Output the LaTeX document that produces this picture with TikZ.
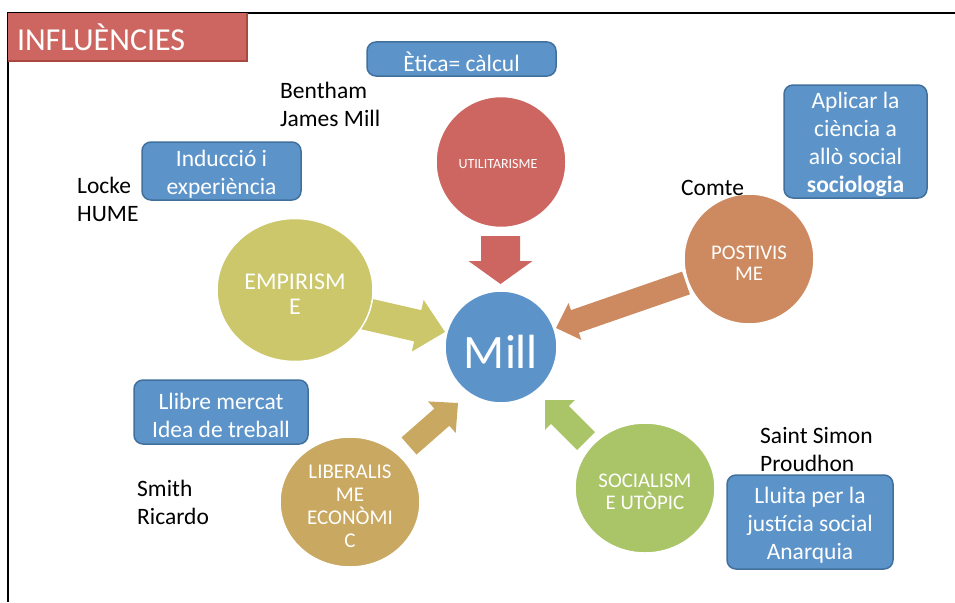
\documentclass[tikz,border=0pt]{standalone}
\usepackage{fontspec}
\setmainfont{Carlito}
\usetikzlibrary{calc,shapes.geometric}
\pgfdeclarelayer{bg}
\pgfsetlayers{bg,main}
\definecolor{titlered}{HTML}{CD6660}
\definecolor{titleedge}{HTML}{A8483F}
\definecolor{boxblue}{HTML}{5C94CA}
\definecolor{boxedge}{HTML}{41709C}
\definecolor{millblue}{HTML}{5C94CA}
\definecolor{utilred}{HTML}{CD6660}
\definecolor{empyel}{HTML}{CBC76A}
\definecolor{posorg}{HTML}{CD8A60}
\definecolor{libtan}{HTML}{C9A862}
\definecolor{socgrn}{HTML}{AAC468}
% start, tip, shaft half width, head half width, head length, colour
\newcommand\blockarrow[6]{%
  \coordinate (hb) at ($(#2)!#5!(#1)$);
  \fill[#6] ($(#1)!#3!90:(#2)$) -- ($(hb)!#3!90:(#2)$) -- ($(hb)!#4!90:(#2)$) -- (#2)
    -- ($(hb)!#4!-90:(#2)$) -- ($(hb)!#3!-90:(#2)$) -- ($(#1)!#3!-90:(#2)$) -- cycle;}
\tikzset{
  ell/.style={ellipse, draw=white, line width=1.5pt, inner sep=0pt},
  ctext/.style={text=white, align=center, inner sep=0pt},
  infobox/.style={rounded corners=9pt, fill=boxblue, draw=boxedge, line width=1.5pt, inner sep=0pt},
  btext/.style={text=white, align=center, inner sep=0pt, font=\fontsize{23.5}{28}\selectfont},
  lbl/.style={anchor=west, align=left, inner sep=0pt, text=black, font=\fontsize{23.5}{28}\selectfont},
}
\begin{document}
\begin{tikzpicture}[x=1pt,y=-1pt]
\useasboundingbox (0,0) rectangle (955,602);
% frame
\draw[line width=2pt] (7,13) -- (955,13);
\draw[line width=2pt] (8,13) -- (8,602);
% title
\node[fill=titlered, minimum width=239pt, minimum height=48pt, text width=221pt, inner xsep=9pt,
  inner ysep=0pt, align=left, text=white, font=\fontsize{32}{34}\selectfont] (title) at (127.5,37) {INFLUÈNCIES};
\draw[titleedge, line width=1.5pt] (title.north east) -- (title.south east) -- (title.south west);
% circles
\node[ell, fill=utilred, minimum width=130pt, minimum height=131pt] (util) at (501,162) {};
\node[ell, fill=millblue, minimum width=112pt, minimum height=112pt] (mill) at (501,347) {};
\node[ell, fill=empyel, minimum width=156pt, minimum height=143pt] (emp) at (295,290) {};
\node[ell, fill=posorg, minimum width=130pt, minimum height=130pt] (pos) at (749,259) {};
\node[ell, fill=libtan, minimum width=140pt, minimum height=130pt] (lib) at (350,502) {};
\node[ell, fill=socgrn, minimum width=140pt, minimum height=130pt] (soc) at (645,488) {};
\node[ctext, font=\fontsize{14}{17}\selectfont] (util-t) at ($(util)+(-3,2)$) {UTILITARISME};
\node[ctext, font=\fontsize{48}{50}\selectfont] (mill-t) at ($(mill)+(0,5)$) {Mill};
\node[ctext, font=\fontsize{24}{25}\selectfont] (emp-t) at ($(emp)+(0,4)$) {EMPIRISM\\E};
\node[ctext, font=\fontsize{20.8}{21}\selectfont] (pos-t) at ($(pos)+(0,4)$) {POSTIVIS\\ME};
\node[ctext, font=\fontsize{21}{23}\selectfont] (lib-t) at ($(lib)+(0,4)$) {LIBERALIS\\ME\\ECONÒMI\\C};
\node[ctext, font=\fontsize{20.8}{22}\selectfont] (soc-t) at ($(soc)+(0,4)$) {SOCIALISM\\E UTÒPIC};
% arrow end points
\coordinate (a1s) at (500.5,236); \coordinate (a1t) at (500.5,284);
\coordinate (a2s) at (362,313);   \coordinate (a2t) at (445,332);
\coordinate (a3s) at (686,283);   \coordinate (a3t) at (556,328);
\coordinate (a4s) at (409,446);   \coordinate (a4t) at (458,403);
\coordinate (a5s) at (586,441);   \coordinate (a5t) at (545,400);
\begin{pgfonlayer}{bg}
\blockarrow{a1s}{a1t}{19.5pt}{32pt}{23pt}{utilred}
\blockarrow{a2s}{a2t}{16pt}{26.5pt}{28pt}{empyel}
\blockarrow{a3s}{a3t}{12pt}{19.5pt}{20pt}{posorg}
\blockarrow{a4s}{a4t}{11.4pt}{21pt}{21.5pt}{libtan}
\blockarrow{a5s}{a5t}{12.7pt}{21.2pt}{21.2pt}{socgrn}
\end{pgfonlayer}
% info boxes
\node[infobox, minimum width=189pt, minimum height=34pt] (etica) at (461.5,59) {};
\node[infobox, minimum width=143pt, minimum height=113pt] (aplicar) at (855.5,141.5) {};
\node[infobox, minimum width=159pt, minimum height=58pt] (induccio) at (221.5,171) {};
\node[infobox, minimum width=174pt, minimum height=64pt] (llibre) at (221,412) {};
\node[infobox, minimum width=166pt, minimum height=94pt] (lluita) at (810,522) {};
\node[btext] (etica-t) at ($(etica)+(0,3)$) {Ètica= càlcul};
\node[btext] (aplicar-t) at ($(aplicar)+(0,3)$) {Aplicar la\\ciència a\\allò social\\\textbf{sociologia}};
\node[btext] (induccio-t) at ($(induccio)+(0,3)$) {Inducció i\\experiència};
\node[btext] (llibre-t) at ($(llibre)+(0,3)$) {Llibre mercat\\Idea de treball};
\node[btext] (lluita-t) at ($(lluita)+(0,3)$) {Lluita per la\\justícia social\\Anarquia};
% name labels
\node[lbl] (bentham) at (280,104) {Bentham\\James Mill};
\node[lbl] (locke) at (77,199) {Locke\\HUME};
\node[lbl] (comte) at (681,188) {Comte};
\node[lbl] (smith) at (137,502) {Smith\\Ricardo};
\node[lbl] (saint) at (760,449) {Saint Simon\\Proudhon};
\end{tikzpicture}
\end{document}
